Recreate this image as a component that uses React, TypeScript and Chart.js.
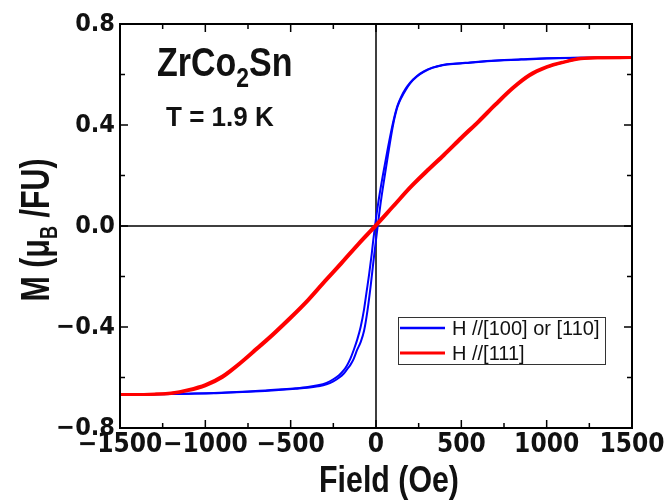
import React, { useEffect, useRef } from 'react';
import { Chart, registerables } from 'chart.js';
Chart.register(...registerables);

// ---- data ----
const X_MIN = -1500;
const X_MAX = 1500;
const Y_MIN = -0.8;
const Y_MAX = 0.8;

// H // [100] or [110]  (blue) – ascending branch
const blueUpH = [-1500, -1300, -1100, -950, -850, -750, -650, -550, -470, -400, -340, -290, -250, -215, -190, -170, -150, -130, -110, -90, -70, -50, -30, -15, 0, 10, 25, 40, 70, 100, 125, 150, 175, 200, 240, 280, 330, 390, 470, 550, 650, 750, 850, 1000, 1200, 1500];
const blueUpM = [-0.667, -0.666, -0.664, -0.662, -0.659, -0.656, -0.653, -0.649, -0.645, -0.641, -0.635, -0.627, -0.615, -0.6, -0.585, -0.568, -0.55, -0.525, -0.49, -0.46, -0.415, -0.335, -0.23, -0.14, -0.055, 0.0, 0.08, 0.15, 0.28, 0.4, 0.47, 0.51, 0.54, 0.565, 0.592, 0.61, 0.626, 0.637, 0.643, 0.647, 0.652, 0.656, 0.659, 0.663, 0.666, 0.667];
// blue – descending branch
const blueDownH = [-1500, -1300, -1100, -950, -850, -750, -650, -550, -470, -400, -340, -290, -250, -215, -190, -170, -150, -130, -110, -90, -70, -55, -40, -25, -15, 0, 15, 40, 70, 100, 125, 150, 175, 200, 240, 280, 330, 390, 470, 550, 650, 750, 850, 1000, 1200, 1500];
const blueDownM = [-0.667, -0.666, -0.664, -0.661, -0.658, -0.655, -0.651, -0.647, -0.643, -0.638, -0.631, -0.621, -0.607, -0.59, -0.572, -0.552, -0.525, -0.49, -0.45, -0.4, -0.33, -0.26, -0.19, -0.11, -0.05, 0.03, 0.1, 0.2, 0.31, 0.41, 0.475, 0.515, 0.545, 0.568, 0.594, 0.612, 0.627, 0.638, 0.644, 0.648, 0.653, 0.657, 0.66, 0.664, 0.666, 0.667];

// H // [111] (red) – two nearly coincident branches
const redUpH = [-1500, -1300, -1200, -1100, -1000, -900, -800, -700, -600, -500, -400, -300, -200, -100, 0, 100, 200, 300, 400, 500, 600, 700, 800, 900, 1000, 1100, 1200, 1300, 1500];
const redUpM = [-0.667, -0.666, -0.663, -0.652, -0.633, -0.6, -0.548, -0.49, -0.43, -0.366, -0.298, -0.222, -0.148, -0.072, 0.0, 0.075, 0.15, 0.216, 0.28, 0.346, 0.41, 0.478, 0.543, 0.595, 0.628, 0.648, 0.662, 0.666, 0.667];
const redDownH = [-1500, -1300, -1200, -1100, -1000, -900, -800, -700, -600, -500, -400, -300, -200, -100, 0, 100, 200, 300, 400, 500, 600, 700, 800, 900, 1000, 1100, 1200, 1300, 1500];
const redDownM = [-0.667, -0.666, -0.661, -0.648, -0.628, -0.594, -0.543, -0.484, -0.424, -0.36, -0.292, -0.216, -0.142, -0.066, 0.006, 0.08, 0.155, 0.222, 0.286, 0.352, 0.416, 0.484, 0.548, 0.6, 0.631, 0.65, 0.664, 0.666, 0.667];

const LEGEND_LABELS = ['H //[100] or [110]', 'H //[111]'];
const COLORS = ['#0000ff', '#ff0000'];
const X_TITLE = 'Field (Oe)';
const COMPOUND = ['ZrCo', '2', 'Sn'];
const TEMP_LABEL = 'T = 1.9 K';
const Y_TITLE_PARTS = ['M (\u03bc', 'B', ' /FU)'];

const FONT = "'Liberation Sans Narrow', 'DejaVu Sans Condensed', 'Liberation Sans', sans-serif";
const FONT_BOLD = "'Liberation Sans', Arial, sans-serif";
const FONT_REG = "'Liberation Sans', Arial, sans-serif";

const toPts = (h: number[], m: number[]) => h.map((v, i) => ({ x: v, y: m[i] }));
const fmtMinus = (s: string) => s.replace('-', '\u2212');

// draw a run of [text, size, dy] parts, horizontally condensed by sx, centred or left-aligned at (x, y)
function drawRun(ctx: any, parts: [string, number, number][], x: number, y: number, sx: number, align: 'left' | 'center') {
  ctx.save();
  ctx.translate(x, y);
  ctx.scale(sx, 1);
  ctx.textAlign = 'left';
  ctx.textBaseline = 'alphabetic';
  let total = 0;
  for (const [t, s] of parts) {
    ctx.font = `bold ${s}px ${FONT_BOLD}`;
    total += ctx.measureText(t).width;
  }
  let cx = align === 'center' ? -total / 2 : 0;
  for (const [t, s, dy] of parts) {
    ctx.font = `bold ${s}px ${FONT_BOLD}`;
    ctx.fillText(t, cx, dy);
    cx += ctx.measureText(t).width;
  }
  ctx.restore();
}

const decorPlugin = {
  id: 'decor',
  beforeDatasetsDraw(chart: any) {
    const { ctx, chartArea: a, scales } = chart;
    const x0 = scales.x.getPixelForValue(0);
    const y0 = scales.y.getPixelForValue(0);
    ctx.save();
    ctx.strokeStyle = '#000';
    ctx.lineWidth = 1.5;
    ctx.beginPath();
    ctx.moveTo(x0, a.top);
    ctx.lineTo(x0, a.bottom);
    ctx.moveTo(a.left, y0);
    ctx.lineTo(a.right, y0);
    ctx.stroke();
    ctx.restore();
  },
  afterDatasetsDraw(chart: any) {
    const { ctx, chartArea: a, scales } = chart;
    ctx.save();
    ctx.strokeStyle = '#000';
    ctx.lineWidth = 2;
    ctx.strokeRect(a.left, a.top, a.right - a.left, a.bottom - a.top);
    ctx.lineWidth = 1.5;
    ctx.beginPath();
    for (let v = X_MIN; v <= X_MAX; v += 250) {
      const px = scales.x.getPixelForValue(v);
      const len = v % 500 === 0 ? 8 : 5;
      ctx.moveTo(px, a.bottom);
      ctx.lineTo(px, a.bottom - len);
      ctx.moveTo(px, a.top);
      ctx.lineTo(px, a.top + len);
    }
    for (let k = -4; k <= 4; k++) {
      const v = k * 0.2;
      const py = scales.y.getPixelForValue(v);
      const len = k % 2 === 0 ? 8 : 5;
      ctx.moveTo(a.left, py);
      ctx.lineTo(a.left + len, py);
      ctx.moveTo(a.right, py);
      ctx.lineTo(a.right - len, py);
    }
    ctx.stroke();
    ctx.restore();
  },
  afterDraw(chart: any) {
    const { ctx, chartArea: a, height } = chart;
    ctx.save();
    ctx.fillStyle = '#111';

    // compound name with subscript
    drawRun(ctx, [[COMPOUND[0], 40, 0], [COMPOUND[1], 27, 11], [COMPOUND[2], 40, 0]], a.left + 37, a.top + 52, 0.85, 'left');
    // temperature
    drawRun(ctx, [[TEMP_LABEL, 28, 0]], a.left + 46, a.top + 102, 0.93, 'left');
    // x title
    drawRun(ctx, [[X_TITLE, 37, 0]], (a.left + a.right) / 2 + 13, height - 11, 0.82, 'center');

    // y title (rotated)
    ctx.save();
    ctx.translate(49, (a.top + a.bottom) / 2 + 4);
    ctx.rotate(-Math.PI / 2);
    drawRun(ctx, [[Y_TITLE_PARTS[0], 40, 0], [Y_TITLE_PARTS[1], 24, 8], [Y_TITLE_PARTS[2], 40, 0]], 0, 0, 0.76, 'center');
    ctx.restore();

    // legend box
    const lx = a.left + 278;
    const ly = a.top + 293;
    const lw = 207;
    const lh = 47;
    ctx.fillStyle = '#fff';
    ctx.fillRect(lx, ly, lw, lh);
    ctx.strokeStyle = '#333';
    ctx.lineWidth = 1;
    ctx.strokeRect(lx + 0.5, ly + 0.5, lw, lh);
    ctx.textAlign = 'left';
    ctx.textBaseline = 'middle';
    ctx.font = `20px ${FONT_REG}`;
    LEGEND_LABELS.forEach((lab, i) => {
      const yy = ly + 11 + i * 25;
      ctx.strokeStyle = COLORS[i];
      ctx.lineWidth = i === 0 ? 2.5 : 3;
      ctx.beginPath();
      ctx.moveTo(lx + 2, yy);
      ctx.lineTo(lx + 47, yy);
      ctx.stroke();
      ctx.fillStyle = '#111';
      ctx.fillText(lab, lx + 54, yy + 1);
    });
    ctx.restore();
  },
};

export default function App() {
  const ref = useRef<HTMLCanvasElement | null>(null);
  useEffect(() => {
    if (!ref.current) return;
    const ds = (h: number[], m: number[], color: string, w: number, order: number) => ({
      data: toPts(h, m),
      borderColor: color,
      backgroundColor: color,
      borderWidth: w,
      pointRadius: 0,
      fill: false,
      cubicInterpolationMode: 'monotone' as const,
      order,
    });
    const chart = new Chart(ref.current, {
      type: 'line',
      data: {
        datasets: [
          { label: LEGEND_LABELS[1], ...ds(redUpH, redUpM, COLORS[1], 3, 0) },
          { label: LEGEND_LABELS[1] + ' b', ...ds(redDownH, redDownM, COLORS[1], 3, 0) },
          { label: LEGEND_LABELS[0], ...ds(blueUpH, blueUpM, COLORS[0], 2, 1) },
          { label: LEGEND_LABELS[0] + ' b', ...ds(blueDownH, blueDownM, COLORS[0], 2, 1) },
        ],
      },
      options: {
        animation: false,
        responsive: true,
        maintainAspectRatio: false,
        layout: { padding: { top: 24, right: 36, left: 0, bottom: 0 } },
        plugins: { legend: { display: false }, tooltip: { enabled: false } },
        scales: {
          x: {
            type: 'linear',
            min: X_MIN,
            max: X_MAX,
            grid: { display: false, drawTicks: false },
            border: { display: false },
            ticks: {
              stepSize: 500,
              padding: 2,
              color: '#111',
              font: { family: FONT, size: 26, weight: 'bold' },
              callback: (v: any) => fmtMinus(String(Math.round(Number(v)))),
              maxRotation: 0,
              autoSkip: false,
            },
            afterFit: (s: any) => {
              s.height = 75;
            },
          },
          y: {
            type: 'linear',
            min: Y_MIN,
            max: Y_MAX,
            grid: { display: false, drawTicks: false },
            border: { display: false },
            ticks: {
              stepSize: 0.4,
              padding: 5,
              color: '#111',
              font: { family: FONT, size: 25, weight: 'bold' },
              callback: (v: any) => fmtMinus(Number(v).toFixed(1)),
            },
            afterFit: (s: any) => {
              s.width = 120;
            },
          },
        },
      },
      plugins: [decorPlugin],
    });
    return () => chart.destroy();
  }, []);
  return (
    <div style={{ position: 'fixed', left: 0, top: 0, width: 668, height: 503, background: '#fff' }}>
      <canvas ref={ref} />
    </div>
  );
}
